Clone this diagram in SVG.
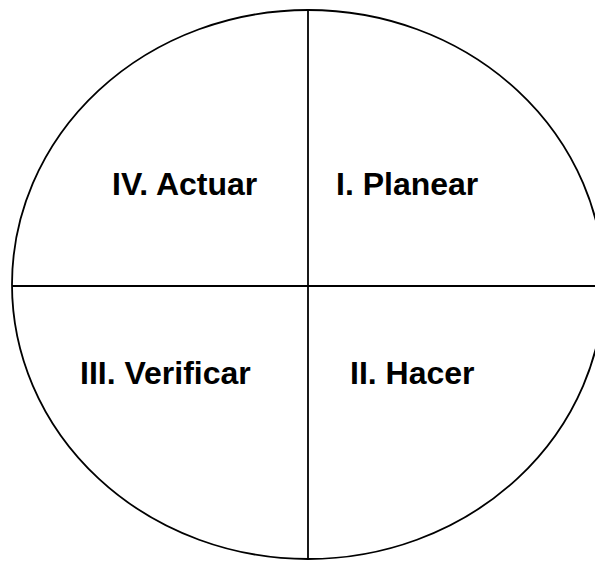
<svg xmlns="http://www.w3.org/2000/svg" width="595" height="562" viewBox="0 0 595 562">
<style>
.shape{fill:none;stroke:#000;stroke-width:1.8}
.lbl{font-family:"Liberation Sans",Arial,sans-serif;font-weight:bold;font-size:32px;fill:#000}
</style>
<rect width="595" height="562" fill="#fff"/>
<g id="circle"><ellipse class="shape" cx="308" cy="284.5" rx="296" ry="274.5"/></g>
<g id="connectors">
<line class="shape" x1="12" y1="286" x2="595" y2="286"/>
<line class="shape" x1="308" y1="10" x2="308" y2="559"/>
</g>
<g id="actuar"><text class="lbl" x="112" y="195">IV. Actuar</text></g>
<g id="planear"><text class="lbl" x="336" y="195">I. Planear</text></g>
<g id="verificar"><text class="lbl" x="80" y="384">III. Verificar</text></g>
<g id="hacer"><text class="lbl" x="350" y="384">II. Hacer</text></g>
</svg>
